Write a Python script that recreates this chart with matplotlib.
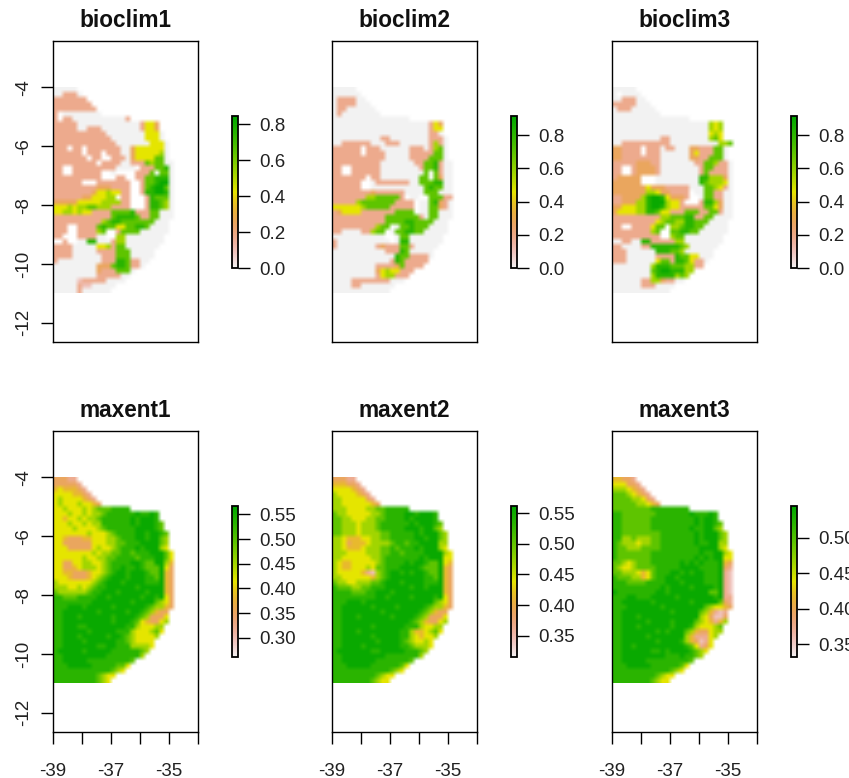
import colorsys
import numpy as np
import matplotlib
matplotlib.use("Agg")
import matplotlib.pyplot as plt
from matplotlib.colors import ListedColormap, Normalize
from matplotlib.cm import ScalarMappable

plt.rcParams['font.family'] = ['Liberation Sans', 'DejaVu Sans']

# cell codes: '.' = no data, digits = position on the legend scale
LEVELS = [0.0, .11, .2, .3, .4, .5, .62, .76, .88, .97]

bioclim1 = ["00000", "002220", "2222222", "22222222", "222222222", "2.00000000",
 "2.22000000000002", "2222200000000000002553", "2222200222000000002553",
 "22222222222000000005550", "22222222222200000005550", "222222222222200000005550",
 "222.2" + "2.222" + "22220" + "03555" + "5550", "22222" + "2.222" + ".2220" + "03555" + "5560",
 "22222" + "22.22" + "..222" + "03555" + "5770", "22222" + "2222." + "22220" + "02227" + "67700",
 "22..2" + "22222" + "22200" + "00.22" + "27780", "22..2" + "22222" + "..0.." + "..222" + "7.770",
 "22222" + "22222" + "...22" + "..227" + "78880", "22222" + "2...2" + "22222" + "2..27" + "78990",
 "22222" + "22223" + "33222" + "2..27" + "89970",
 "22222" + "22235" + "56552" + "2..28" + "89980", "22222" + "23355" + "566.2" + "2...2" + "87770",
 "33333" + "55555" + "66662" + "2...2" + "88760", "55565" + "66776" + "66222" + "2...2" + "88760",
 "55665" + "65522" + "22777" + "78222" + "77000", "22222" + "22222" + "22788" + "88722" + "77000",
 "22222" + "22222" + "67887" + "77777" + "7000", "222.." + "22227" + "87755" + "77887" + "0000",
 "222.." + "22226" + "7..27" + "77700" + "0000", "22..." + "22220" + "0..66" + "00000" + "000",
 "..2.." + "00880" + "00266" + "00000" + "000", "22220" + "00005" + "56277" + "00000" + "00",
 "22220" + "00002" + "22277" + "70000" + "0", "22220" + "00000" + "22277" + "70000" + "0",
 "20000" + "00000" + "22288" + "72200", "00000" + "00003" + "33788" + "7220",
 "00000" + "00003" + "22277" + "70", "00000" + "00002" + "22220" + "0",
 "00000" + "12222" + "20000", "00000" + "21100" + "000", "00000" + "20000" + "00"]

bioclim2 = ["00000", "000000", "0222200", "02222000", "022000000", "0200000000",
 "0000000000000000", "00000000000000000000253", "00000000000000000000255",
 "00000000000000000000220", "00000000002200000000222" + "0", "0022222200022200000" + "02620",
 "22222" + "2.222" + "00000" + "02220" + "2670", "22222" + "2.222" + "20000" + "02222" + "2770",
 "22222" + "22222" + "20000" + "02222" + "7770", "22222" + "22222" + "00000" + "00227" + "78200",
 "22..2" + "22222" + "00000" + "00027" + "78200", "22..2" + "22222" + "00000" + "00007" + ".7200",
 "22222" + "22.22" + "00000" + "00077" + ".7300", "22222" + "2..02" + "22222" + "20077" + "78800",
 "22222" + "2..00" + "00000" + "00007" + "87700", "22222" + "22232" + "22222" + "00007" + "77000",
 "22222" + "22667" + "77772" + ".00.." + "77722", "22222" + "67777" + "77722" + "22.00" + "78320",
 "55555" + "56777" + "77222" + "22.00" + "77320", "23555" + "52222" + "22277" + "77.00" + "77000",
 "22222" + "22222" + "27777" + "77720" + "77000", "22222" + "22222" + "27777" + "88777" + "7000",
 "22222" + "22226" + "77.07" + "78777" + "0000", "22000" + "02267" + "7.077" + "88770" + "0000",
 "00000" + "00000" + "0..07" + "70000" + "000", "20000" + "00000" + "00.08" + "80000" + "000",
 "20000" + "00002" + "32227" + "72000" + "00", "00000" + "00000" + "02228" + "70000" + "0",
 "00000" + "00000" + "00087" + "72222" + "0", "00000" + "00000" + "00287" + "22222",
 "00000" + "00002" + "22237" + "2222", "00000" + "00003" + "56552" + "22",
 "00000" + "00002" + "56622" + "2", "00002" + "22222" + "22000", "00002" + "20000" + "000",
 "00000" + "00000" + "00"]

bioclim3 = ["00000", "0.0000", "0022200", "22222000", "022200000", "0000000000",
 "0000000000000000", "00000000000000000000656", "00000000000000000000656",
 "00000000000000000000565", "00000000002200000000675", "0022222222220000000000667",
 "33222" + "2.222" + "02200" + "03322" + "2770", "33222" + "2.222" + "00000" + "03522" + "2770",
 "33222" + "22222" + "00000" + "03322" + "7770", "22222" + "33322" + "00000" + "00227" + "76220",
 "22..2" + "33332" + "00000" + "00027" + "72220", "22..2" + "33332" + "00000" + "00027" + "22220",
 "23333" + "3...0" + "00000" + "00088" + "66630", "33333" + "3...0" + "00000" + "00087" + "66650",
 "33333" + "33533" + "32222" + "20007" + "76520", "33333" + "33665" + "33222" + "2.007" + "72200",
 "22333" + "36899" + "85333" + "2..07" + "72200", "22333" + "66899" + "96552" + "...28" + "86300",
 "33555" + "66899" + "86552" + "22227" + "75300", "35555" + "66887" + "55222" + "77722" + "77200",
 "22222" + "22222" + "66777" + "88227" + "70000", "22222" + "22225" + "67766" + "88777" + "0000",
 "22..2" + "22257" + "7.667" + "88770" + "0000", "22222" + "22267" + "..778" + "87700" + "0000",
 "22222" + "22222" + "..677" + "00000" + "000", "00220" + "08822" + "22266" + "00000" + "000",
 "22000" + "02288" + "88887" + "60000" + "00", "22200" + "00008" + "88776" + "00000" + "0",
 "22200" + "00002" + "22287" + "75500" + "0", "22200" + "00005" + "77288" + "75220",
 "00000" + "00068" + "88777" + "6622", "00000" + "00078" + "99888" + "66",
 "00000" + "00068" + "88867" + "6", "00000" + "02266" + "32200", "00000" + "02220" + "000",
 "00000" + "00000" + "00"]

maxent1 = ["33322", "333332", "4544432", "55554432", "565555432", "5655565543",
 "5565556567778888", "5556556566788888898898", "5545565667888888989998",
 "55565565668888889899987", "55556555567888888999987", "555555565556788889989987",
 "554333445556678889989976", "553333335556677888999976", "555333335655678889899965",
 "5555555565667788788899975", "5555556556677888878889975", "5533556655678888998779964",
 "5533456665678898898777953", "5544333455678998999877943", "5554333456789998999887943",
 "6555555567899989999888943", "6665565678899999989999943", "7666666788999899999899943",
 "8877788889989999998998953", "8888888899999999899997653", "8889998999998999999876643",
 "889999999899999899876433", "889998999999899998763335", "889999999999899987543356",
 "88999889999999988655566", "88999998999998886555675", "8899989999989987655556",
 "889999899999988765555", "889999999889988866665", "89999989999988888876",
 "8899999999988888886", "88999998888888887", "8889999988888775", "888888888888765",
 "8888888887655", "888888888765"]

maxent2 = ["33322", "444332", "5555432", "65555432", "665555532", "6655555543",
 "6665555667788888", "7665555566788889989998", "7766555667788889899998",
 "77666566678888889899987", "77666566678888899989976", "776665666677888889899976",
 "665444556677888889989976", "665344456666788788999966", "665444566677878889899965",
 "6665555666778878888999965", "6655555566788888889899955", "6544555556788889899877954",
 "6544555657788899998777943", "6555554216789989899877943", "6655555546789999999887943",
 "7665566677899989999888943", "8777667788899999899899943", "8888777889998999999999943",
 "8888888889989999899998953", "8889998999999999999997653", "8899999989999899999876643",
 "889999999989999999876433", "889998999999899998763335", "889999999999999987643356",
 "88999999899999988865566", "88999899999999886445675", "8899999989999988654556",
 "889999999899998765565", "889999899999998876665", "89999999889999988876",
 "8899999999988888886", "88999999988888887", "8889999988888875", "888888888888765",
 "8888888887655", "888888887655"]

maxent3 = ["44332", "555332", "6665432", "77765432", "777766532", "7777766543",
 "7777777788888888", "8877777778888888988898", "8877777788888888898998",
 "88777777888888888989987", "88777777888888889889976", "887777777788888889899976",
 "886676667788888889899976", "876665667788888889889966", "877666777788888888999965",
 "8777777788888888889889965", "8777777788888888898989955", "7765677788888898989888943",
 "7655677778888899998888932", "7766654578889989899888921", "8777664578899899999888921",
 "8887777888899989999888921", "8888888888989999899998921", "9888888889989999999977921",
 "8889988899999899999998922", "8899999989999999899999732", "8889999999899999999765543",
 "889999999999899999764212", "889998999999999999653113", "889999989999899997654246",
 "88999899999989998655567", "88999999989899976433566", "8899999899999996422256",
 "889999999899998643125", "889989999999999875235", "88999999889899998765",
 "8899999999988898876", "88999998888888887", "8889999988888875", "888888888888765",
 "8888888887655", "888888887655"]

titles = ["bioclim1", "bioclim2", "bioclim3", "maxent1", "maxent2", "maxent3"]
grids = [bioclim1, bioclim2, bioclim3, maxent1, maxent2, maxent3]
scale_low = [0.0, 0.0, 0.0, 0.261, 0.315, 0.332]
scale_high = [0.845, 0.915, 0.915, 0.567, 0.562, 0.545]
legend_ticks = [[0.0, 0.2, 0.4, 0.6, 0.8], [0.0, 0.2, 0.4, 0.6, 0.8], [0.0, 0.2, 0.4, 0.6, 0.8],
                [0.30, 0.35, 0.40, 0.45, 0.50, 0.55], [0.35, 0.40, 0.45, 0.50, 0.55], [0.35, 0.40, 0.45, 0.50]]
lon_ticks = [-39, -38, -37, -36, -35, -34]
lon_labels = ["-39", "", "-37", "", "-35", ""]
lat_ticks = [-4, -6, -8, -10, -12]
lat_labels = ["-4", "-6", "-8", "-10", "-12"]

def terrain(n=255):
    k = n // 2
    cols = []
    for i in range(n):
        if i < n - k:
            u = i / (n - k - 1)
            cols.append(colorsys.hsv_to_rgb(u ** 1.3 * 2 / 12, u, .95 - .05 * u))
        else:
            u = (i - (n - k) + 1) / k
            cols.append(colorsys.hsv_to_rgb(2 / 12 + u * 2 / 12, 1, .9 - .25 * u))
    cm = ListedColormap(cols)
    cm.set_bad('white')
    return cm

cmap = terrain()
W, H = 849, 778
fig = plt.figure(figsize=(W / 100, H / 100), dpi=100)

def box(x0, y0, x1, y1):
    return [x0 / W, 1 - y1 / H, (x1 - x0) / W, (y1 - y0) / H]

left = [53, 332, 612]
tops = [(41, 342), (431, 732)]
for i, name in enumerate(titles):
    row, col = i // 3, i % 3
    y0, y1 = tops[row]
    ax = fig.add_axes(box(left[col], y0, left[col] + 145, y1))
    vmin, vmax = scale_low[i], scale_high[i]
    arr = np.full((42, 30), np.nan)
    for r, line in enumerate(grids[i]):
        for c, ch in enumerate(line[:30]):
            if ch.isdigit():
                arr[r, c] = vmin + LEVELS[int(ch)] * (vmax - vmin)
    norm = Normalize(vmin, vmax)
    ax.imshow(arr, cmap=cmap, norm=norm, extent=[-39, -34, -11, -4], origin='upper',
              aspect='auto', interpolation='bilinear', interpolation_stage='rgba')
    ax.set_xlim(-39, -34)
    ax.set_ylim(-12.65, -2.42)
    ax.set_title(name, fontweight='bold', fontsize=16.3, pad=10, color='#111111')
    ax.set_yticks(lat_ticks)
    if col == 0:
        ax.set_yticklabels(lat_labels, rotation=90, va='center', fontsize=13.5, color='#222222')
        ax.tick_params(axis='y', length=8.5, width=1, pad=6.5)
    else:
        ax.tick_params(axis='y', left=False, labelleft=False)
    ax.set_xticks(lon_ticks)
    if row == 1:
        ax.set_xticklabels(lon_labels, fontsize=13.5, color='#222222')
        ax.tick_params(axis='x', length=8.5, width=1, pad=13.5)
    else:
        ax.tick_params(axis='x', bottom=False, labelbottom=False)
    for s in ax.spines.values():
        s.set_linewidth(1.0)

    bx = left[col] + 179
    by0, by1 = (116, 268) if row == 0 else (506, 657)
    cax = fig.add_axes(box(bx, by0, bx + 5.5, by1))
    cb = fig.colorbar(ScalarMappable(norm=norm, cmap=cmap), cax=cax)
    cb.set_ticks(legend_ticks[i])
    cb.set_ticklabels([f"{v:.1f}" if row == 0 else f"{v:.2f}" for v in legend_ticks[i]])
    cb.ax.tick_params(length=8.5, width=1, pad=7, labelsize=13.5, labelcolor='#222222')
    cb.outline.set_linewidth(1.3)

fig.savefig("out.png", dpi=100)
